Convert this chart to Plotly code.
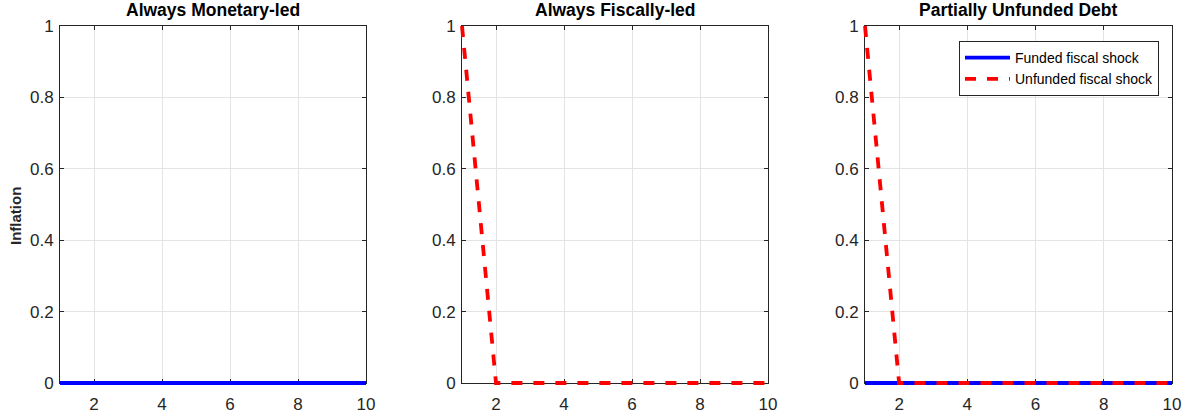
import plotly.graph_objects as go

periods = [1, 2, 3, 4, 5, 6, 7, 8, 9, 10]
funded_monetary = [0, 0, 0, 0, 0, 0, 0, 0, 0, 0]
unfunded_fiscal = [1, 0, 0, 0, 0, 0, 0, 0, 0, 0]
funded_partial = [0, 0, 0, 0, 0, 0, 0, 0, 0, 0]
unfunded_partial = [1, 0, 0, 0, 0, 0, 0, 0, 0, 0]
titles = ["Always Monetary-led", "Always Fiscally-led", "Partially Unfunded Debt"]
x_ticks = [2, 4, 6, 8, 10]
y_ticks = [0, 0.2, 0.4, 0.6, 0.8, 1]
y_ticktext = ["0", "0.2", "0.4", "0.6", "0.8", "1"]

# page body margin removed via post_script, so figure fills the window
W, H = 1190, 419
def fx(px):
    return px / W
def fy(py):
    return 1 - py / H

xpx = [(60, 366), (462, 768), (865, 1172)]
ypx = (26, 383)
PAD = 5  # px of extra room so lines on the frame are not clipped

FONT = "Liberation Sans, Arial, Helvetica, sans-serif"
AX = "#262626"
BLUE = "#0000ff"
RED = "#ff0000"
DASH = "11px,11px"
LW = 3.8

xr = [1, 10]
yr = [0, 1]

fig = go.Figure()

# series: (panel index, y values, name, colour, dash, showlegend)
series = [
    (0, funded_monetary, "Funded fiscal shock", BLUE, "solid", False),
    (1, unfunded_fiscal, "Unfunded fiscal shock", RED, DASH, False),
    (2, funded_partial, "Funded fiscal shock", BLUE, "solid", True),
    (2, unfunded_partial, "Unfunded fiscal shock", RED, DASH, True),
]
# transparent copies on the framed axes so those subplots are drawn
for p, yv, nm, col, ds, sl in series:
    sfx = "" if p == 0 else str(p + 1)
    fig.add_trace(go.Scatter(x=periods, y=yv, mode="lines", name=nm,
                             xaxis="x" + sfx, yaxis="y" + sfx, hoverinfo="skip",
                             line=dict(color="rgba(0,0,0,0)", width=1), showlegend=False))
for p, yv, nm, col, ds, sl in series:
    fig.add_trace(go.Scatter(x=periods, y=yv, mode="lines", name=nm,
                             xaxis="x" + str(p + 4), yaxis="y" + str(p + 4),
                             line=dict(color=col, width=LW, dash=ds), showlegend=sl))

axcommon = dict(showline=True, linecolor=AX, linewidth=1, mirror="ticks", ticks="inside",
                ticklen=4, tickcolor=AX, showgrid=True, gridcolor="#e4e4e4", gridwidth=1,
                zeroline=False, tickfont=dict(family=FONT, size=17, color=AX))

layout = dict(width=W, height=H, margin=dict(l=0, r=0, t=0, b=0, autoexpand=False),
              paper_bgcolor="white", plot_bgcolor="rgba(0,0,0,0)", showlegend=True,
              legend=dict(x=fx(1159), xanchor="right", y=fy(41), yanchor="top",
                          bgcolor="white", bordercolor=AX, borderwidth=1,
                          font=dict(family=FONT, size=14, color="black"),
                          tracegroupgap=0, itemwidth=45))

ylen = ypx[1] - ypx[0]
for i in range(3):
    sfx = "" if i == 0 else str(i + 1)
    x0, x1 = xpx[i]
    xlen = x1 - x0
    layout["xaxis" + sfx] = dict(axcommon, domain=[fx(x0), fx(x1)], range=xr, tickvals=x_ticks,
                                 anchor="y" + sfx, ticklabelstandoff=6)
    layout["yaxis" + sfx] = dict(axcommon, domain=[fy(ypx[1]), fy(ypx[0])], range=yr,
                                 tickvals=y_ticks, ticktext=y_ticktext, anchor="x" + sfx,
                                 ticklabelstandoff=2)
    # hidden overlay axes, slightly larger, same data-to-pixel mapping
    dx = (xr[1] - xr[0]) * PAD / xlen
    dy = (yr[1] - yr[0]) * PAD / ylen
    o = str(i + 4)
    layout["xaxis" + o] = dict(domain=[fx(x0 - PAD), fx(x1 + PAD)], range=[xr[0] - dx, xr[1] + dx],
                               visible=False, showgrid=False, zeroline=False, anchor="y" + o,
                               fixedrange=True)
    layout["yaxis" + o] = dict(domain=[fy(ypx[1] + PAD), fy(ypx[0] - PAD)],
                               range=[yr[0] - dy, yr[1] + dy], visible=False, showgrid=False,
                               zeroline=False, anchor="x" + o, fixedrange=True)
fig.update_layout(**layout)

for i, t in enumerate(titles):
    fig.add_annotation(text="<b>" + t + "</b>", xref="paper", yref="paper",
                       x=fx((xpx[i][0] + xpx[i][1]) / 2), xanchor="center",
                       y=fy(10), yanchor="middle",
                       showarrow=False, font=dict(family=FONT, size=17.5, color="black"))

fig.add_annotation(text="<b>Inflation</b>", xref="paper", yref="paper", x=fx(15), xanchor="center",
                   y=fy(216), yanchor="middle",
                   textangle=-90, showarrow=False, font=dict(family=FONT, size=15, color=AX))

fig.write_html("out.html", config={"displayModeBar": False},
               post_script="document.body.style.margin='0';document.body.style.overflow='hidden';")
